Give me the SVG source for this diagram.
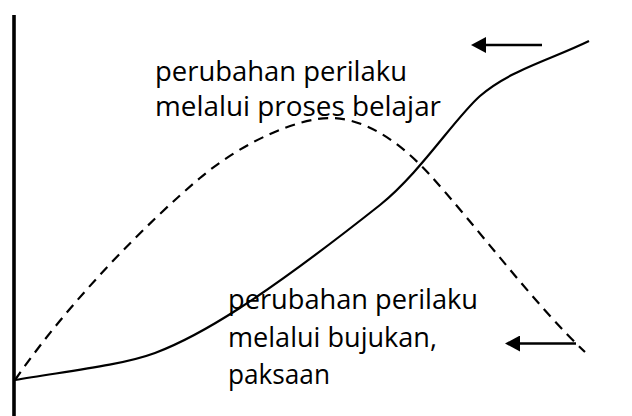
<svg xmlns="http://www.w3.org/2000/svg" width="632" height="416" viewBox="0 0 632 416">
  <style>
    .lbl { font-family: "Open Sans", "Liberation Sans", sans-serif; font-size: 28px; fill: #000; }
    .curve { fill: none; stroke: #000; stroke-width: 2.2; }
    .dash { stroke-dasharray: 10 7; }
    .arr { stroke: #000; stroke-width: 2.6; fill: none; }
  </style>
  <defs>
    <marker id="head" viewBox="0 0 15 16" refX="5" refY="8" markerWidth="15" markerHeight="16" markerUnits="userSpaceOnUse" orient="auto">
      <path d="M15,8 L0,0 L0,16 Z" fill="#000"/>
    </marker>
  </defs>
  <rect width="632" height="416" fill="#fff"/>
  <g id="axis">
    <line x1="14" y1="15" x2="14" y2="416" stroke="#000" stroke-width="3.6"/>
  </g>
  <g id="connectors">
    <path id="curve-learning" class="curve" d="M15,380 C60,372 120,366 155,353 C200,336 260,300 380,205 C420,173 455,118 480,96 C510,70 550,60 589,41"/>
    <path id="curve-persuasion" class="curve dash" d="M15,380 C70,300 150,220 200,178 C245,140 300,118 330,118 C365,118 400,142 430,175 C475,224.5 535,305 585,352"/>
    <line id="arrow-top" class="arr" x1="542" y1="45" x2="481" y2="45" marker-end="url(#head)"/>
    <line id="arrow-bottom" class="arr" x1="576" y1="343.5" x2="515" y2="343.5" marker-end="url(#head)"/>
  </g>
  <g id="label-learning">
    <text class="lbl" x="155" y="80.5" textLength="252" lengthAdjust="spacingAndGlyphs">perubahan perilaku</text>
    <text class="lbl" x="155" y="116" textLength="286" lengthAdjust="spacingAndGlyphs">melalui proses belajar</text>
  </g>
  <g id="label-persuasion">
    <text class="lbl" x="228" y="308.5" textLength="250" lengthAdjust="spacingAndGlyphs">perubahan perilaku</text>
    <text class="lbl" x="228" y="346.5" textLength="209" lengthAdjust="spacingAndGlyphs">melalui bujukan,</text>
    <text class="lbl" x="228" y="384" textLength="102" lengthAdjust="spacingAndGlyphs">paksaan</text>
  </g>
</svg>
